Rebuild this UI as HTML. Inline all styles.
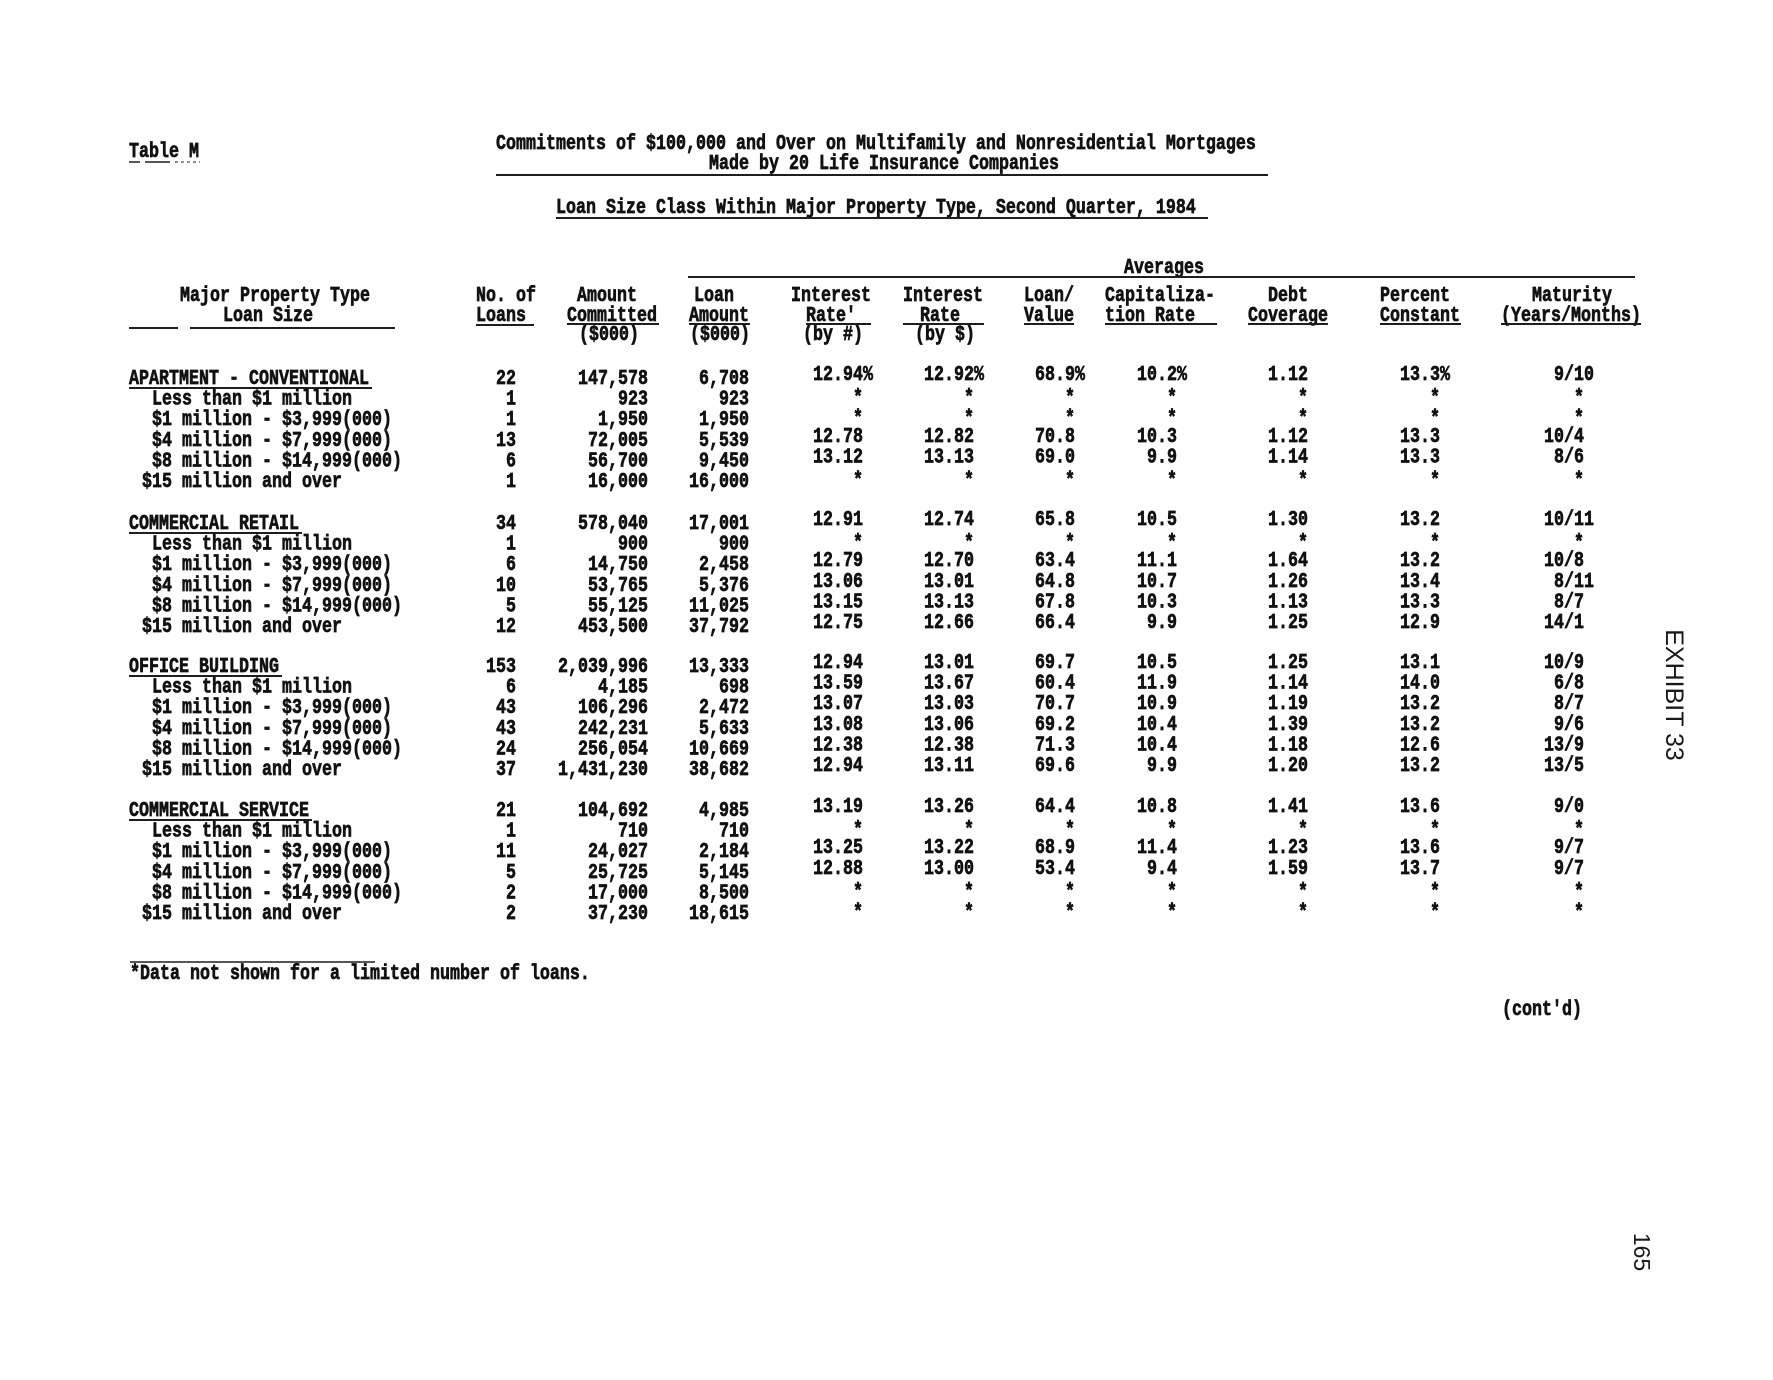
<!DOCTYPE html>
<html>
<head>
<meta charset="utf-8">
<style>
html,body{margin:0;padding:0;background:#fff;}
svg{display:block;}
.t{font-family:"Liberation Mono","DejaVu Sans Mono",monospace;font-weight:bold;font-size:16.667px;fill:#111;stroke:#111;stroke-width:0.55px;}
.s{font-family:"Liberation Sans","DejaVu Sans",sans-serif;font-size:25px;fill:#1a1a1a;}
line{stroke:#1e1e1e;stroke-width:2;}
</style>
</head>
<body>
<svg width="1773" height="1380" viewBox="0 0 1773 1380" xmlns="http://www.w3.org/2000/svg">
<rect width="1773" height="1380" fill="#fff"/>

<!-- Title block -->
<g class="t">
<text transform="translate(129,157) scale(1,1.25)">Table M</text>
<text transform="translate(496,149) scale(1,1.25)">Commitments of $100,000 and Over on Multifamily and Nonresidential Mortgages</text>
<text transform="translate(709,169) scale(1,1.25)">Made by 20 Life Insurance Companies</text>
<text transform="translate(556,213) scale(1,1.25)">Loan Size Class Within Major Property Type, Second Quarter, 1984</text>
<text transform="translate(1124,273) scale(1,1.25)">Averages</text>
</g>
<line x1="129" y1="162" x2="140" y2="162" style="stroke-width:1.5"/>
<line x1="145" y1="162" x2="170" y2="162" style="stroke-width:1.5"/>
<line x1="175" y1="162" x2="200" y2="162" style="stroke-width:1" stroke-dasharray="3,3"/>
<line x1="496" y1="175" x2="1268" y2="175"/>
<line x1="556" y1="218" x2="1208" y2="218"/>
<line x1="688" y1="277" x2="1635" y2="277"/>

<!-- Column headers -->
<g class="t">
<g transform="translate(0,301) scale(1,1.25)">
<text x="180">Major Property Type</text>
<text x="476">No. of</text>
<text x="577">Amount</text>
<text x="694">Loan</text>
<text x="791">Interest</text>
<text x="903">Interest</text>
<text x="1024">Loan/</text>
<text x="1105">Capitaliza-</text>
<text x="1268">Debt</text>
<text x="1380">Percent</text>
<text x="1532">Maturity</text>
</g>
<g transform="translate(0,321) scale(1,1.25)">
<text x="223">Loan Size</text>
<text x="476">Loans</text>
<text x="567">Committed</text>
<text x="689">Amount</text>
<text x="806">Rate'</text>
<text x="920">Rate</text>
<text x="1024">Value</text>
<text x="1105">tion Rate</text>
<text x="1248">Coverage</text>
<text x="1380">Constant</text>
<text x="1501">(Years/Months)</text>
</g>
<g transform="translate(0,340) scale(1,1.25)">
<text x="579">($000)</text>
<text x="690">($000)</text>
<text x="803">(by #)</text>
<text x="915">(by $)</text>
</g>
</g>
<line x1="129" y1="328" x2="178" y2="328"/>
<line x1="190" y1="328" x2="395" y2="328"/>
<line x1="476" y1="325" x2="534" y2="325"/>
<line x1="567" y1="324" x2="659" y2="324"/>
<line x1="689" y1="324" x2="750" y2="324"/>
<line x1="806" y1="324" x2="871" y2="324"/>
<line x1="903" y1="324" x2="984" y2="324"/>
<line x1="1024" y1="324" x2="1074" y2="324"/>
<line x1="1105" y1="324" x2="1217" y2="324"/>
<line x1="1248" y1="324" x2="1328" y2="324"/>
<line x1="1380" y1="324" x2="1461" y2="324"/>
<line x1="1501" y1="324" x2="1641" y2="324"/>

<!-- Section underlines -->
<line x1="129" y1="388" x2="372" y2="388"/>
<line x1="129" y1="533" x2="302" y2="533"/>
<line x1="129" y1="676" x2="282" y2="676"/>
<line x1="129" y1="820" x2="312" y2="820"/>

<g class="t">
<!-- ===== APARTMENT - CONVENTIONAL ===== -->
<g transform="translate(0,384) scale(1,1.25)">
<text x="129">APARTMENT - CONVENTIONAL</text>
<text text-anchor="end"><tspan x="516">22</tspan><tspan x="648">147,578</tspan><tspan x="749">6,708</tspan></text>
<text y="-3.2"><tspan x="813">12.94%</tspan><tspan x="924">12.92%</tspan><tspan x="1035">68.9%</tspan><tspan x="1137">10.2%</tspan><tspan x="1268">1.12</tspan><tspan x="1400">13.3%</tspan><tspan x="1554">9/10</tspan></text>
</g>
<g transform="translate(0,404.6) scale(1,1.25)">
<text x="152">Less than $1 million</text>
<text text-anchor="end"><tspan x="516">1</tspan><tspan x="648">923</tspan><tspan x="749">923</tspan></text>
<text y="-0.8"><tspan x="853">*</tspan><tspan x="964">*</tspan><tspan x="1065">*</tspan><tspan x="1167">*</tspan><tspan x="1298">*</tspan><tspan x="1430">*</tspan><tspan x="1574">*</tspan></text>
</g>
<g transform="translate(0,425.2) scale(1,1.25)">
<text x="152">$1 million - $3,999(000)</text>
<text text-anchor="end"><tspan x="516">1</tspan><tspan x="648">1,950</tspan><tspan x="749">1,950</tspan></text>
<text y="-0.8"><tspan x="853">*</tspan><tspan x="964">*</tspan><tspan x="1065">*</tspan><tspan x="1167">*</tspan><tspan x="1298">*</tspan><tspan x="1430">*</tspan><tspan x="1574">*</tspan></text>
</g>
<g transform="translate(0,445.8) scale(1,1.25)">
<text x="152">$4 million - $7,999(000)</text>
<text text-anchor="end"><tspan x="516">13</tspan><tspan x="648">72,005</tspan><tspan x="749">5,539</tspan></text>
<text y="-3.2"><tspan x="813">12.78</tspan><tspan x="924">12.82</tspan><tspan x="1035">70.8</tspan><tspan x="1137">10.3</tspan><tspan x="1268">1.12</tspan><tspan x="1400">13.3</tspan><tspan x="1544">10/4</tspan></text>
</g>
<g transform="translate(0,466.4) scale(1,1.25)">
<text x="152">$8 million - $14,999(000)</text>
<text text-anchor="end"><tspan x="516">6</tspan><tspan x="648">56,700</tspan><tspan x="749">9,450</tspan></text>
<text y="-3.2"><tspan x="813">13.12</tspan><tspan x="924">13.13</tspan><tspan x="1035">69.0</tspan><tspan x="1147">9.9</tspan><tspan x="1268">1.14</tspan><tspan x="1400">13.3</tspan><tspan x="1554">8/6</tspan></text>
</g>
<g transform="translate(0,487) scale(1,1.25)">
<text x="142">$15 million and over</text>
<text text-anchor="end"><tspan x="516">1</tspan><tspan x="648">16,000</tspan><tspan x="749">16,000</tspan></text>
<text y="-0.8"><tspan x="853">*</tspan><tspan x="964">*</tspan><tspan x="1065">*</tspan><tspan x="1167">*</tspan><tspan x="1298">*</tspan><tspan x="1430">*</tspan><tspan x="1574">*</tspan></text>
</g>

<!-- ===== COMMERCIAL RETAIL ===== -->
<g transform="translate(0,529) scale(1,1.25)">
<text x="129">COMMERCIAL RETAIL</text>
<text text-anchor="end"><tspan x="516">34</tspan><tspan x="648">578,040</tspan><tspan x="749">17,001</tspan></text>
<text y="-3.2"><tspan x="813">12.91</tspan><tspan x="924">12.74</tspan><tspan x="1035">65.8</tspan><tspan x="1137">10.5</tspan><tspan x="1268">1.30</tspan><tspan x="1400">13.2</tspan><tspan x="1544">10/11</tspan></text>
</g>
<g transform="translate(0,549.6) scale(1,1.25)">
<text x="152">Less than $1 million</text>
<text text-anchor="end"><tspan x="516">1</tspan><tspan x="648">900</tspan><tspan x="749">900</tspan></text>
<text y="-0.8"><tspan x="853">*</tspan><tspan x="964">*</tspan><tspan x="1065">*</tspan><tspan x="1167">*</tspan><tspan x="1298">*</tspan><tspan x="1430">*</tspan><tspan x="1574">*</tspan></text>
</g>
<g transform="translate(0,570.2) scale(1,1.25)">
<text x="152">$1 million - $3,999(000)</text>
<text text-anchor="end"><tspan x="516">6</tspan><tspan x="648">14,750</tspan><tspan x="749">2,458</tspan></text>
<text y="-3.2"><tspan x="813">12.79</tspan><tspan x="924">12.70</tspan><tspan x="1035">63.4</tspan><tspan x="1137">11.1</tspan><tspan x="1268">1.64</tspan><tspan x="1400">13.2</tspan><tspan x="1544">10/8</tspan></text>
</g>
<g transform="translate(0,590.8) scale(1,1.25)">
<text x="152">$4 million - $7,999(000)</text>
<text text-anchor="end"><tspan x="516">10</tspan><tspan x="648">53,765</tspan><tspan x="749">5,376</tspan></text>
<text y="-3.2"><tspan x="813">13.06</tspan><tspan x="924">13.01</tspan><tspan x="1035">64.8</tspan><tspan x="1137">10.7</tspan><tspan x="1268">1.26</tspan><tspan x="1400">13.4</tspan><tspan x="1554">8/11</tspan></text>
</g>
<g transform="translate(0,611.4) scale(1,1.25)">
<text x="152">$8 million - $14,999(000)</text>
<text text-anchor="end"><tspan x="516">5</tspan><tspan x="648">55,125</tspan><tspan x="749">11,025</tspan></text>
<text y="-3.2"><tspan x="813">13.15</tspan><tspan x="924">13.13</tspan><tspan x="1035">67.8</tspan><tspan x="1137">10.3</tspan><tspan x="1268">1.13</tspan><tspan x="1400">13.3</tspan><tspan x="1554">8/7</tspan></text>
</g>
<g transform="translate(0,632) scale(1,1.25)">
<text x="142">$15 million and over</text>
<text text-anchor="end"><tspan x="516">12</tspan><tspan x="648">453,500</tspan><tspan x="749">37,792</tspan></text>
<text y="-3.2"><tspan x="813">12.75</tspan><tspan x="924">12.66</tspan><tspan x="1035">66.4</tspan><tspan x="1147">9.9</tspan><tspan x="1268">1.25</tspan><tspan x="1400">12.9</tspan><tspan x="1544">14/1</tspan></text>
</g>

<!-- ===== OFFICE BUILDING ===== -->
<g transform="translate(0,672) scale(1,1.25)">
<text x="129">OFFICE BUILDING</text>
<text text-anchor="end"><tspan x="516">153</tspan><tspan x="648">2,039,996</tspan><tspan x="749">13,333</tspan></text>
<text y="-3.2"><tspan x="813">12.94</tspan><tspan x="924">13.01</tspan><tspan x="1035">69.7</tspan><tspan x="1137">10.5</tspan><tspan x="1268">1.25</tspan><tspan x="1400">13.1</tspan><tspan x="1544">10/9</tspan></text>
</g>
<g transform="translate(0,692.6) scale(1,1.25)">
<text x="152">Less than $1 million</text>
<text text-anchor="end"><tspan x="516">6</tspan><tspan x="648">4,185</tspan><tspan x="749">698</tspan></text>
<text y="-3.2"><tspan x="813">13.59</tspan><tspan x="924">13.67</tspan><tspan x="1035">60.4</tspan><tspan x="1137">11.9</tspan><tspan x="1268">1.14</tspan><tspan x="1400">14.0</tspan><tspan x="1554">6/8</tspan></text>
</g>
<g transform="translate(0,713.2) scale(1,1.25)">
<text x="152">$1 million - $3,999(000)</text>
<text text-anchor="end"><tspan x="516">43</tspan><tspan x="648">106,296</tspan><tspan x="749">2,472</tspan></text>
<text y="-3.2"><tspan x="813">13.07</tspan><tspan x="924">13.03</tspan><tspan x="1035">70.7</tspan><tspan x="1137">10.9</tspan><tspan x="1268">1.19</tspan><tspan x="1400">13.2</tspan><tspan x="1554">8/7</tspan></text>
</g>
<g transform="translate(0,733.8) scale(1,1.25)">
<text x="152">$4 million - $7,999(000)</text>
<text text-anchor="end"><tspan x="516">43</tspan><tspan x="648">242,231</tspan><tspan x="749">5,633</tspan></text>
<text y="-3.2"><tspan x="813">13.08</tspan><tspan x="924">13.06</tspan><tspan x="1035">69.2</tspan><tspan x="1137">10.4</tspan><tspan x="1268">1.39</tspan><tspan x="1400">13.2</tspan><tspan x="1554">9/6</tspan></text>
</g>
<g transform="translate(0,754.4) scale(1,1.25)">
<text x="152">$8 million - $14,999(000)</text>
<text text-anchor="end"><tspan x="516">24</tspan><tspan x="648">256,054</tspan><tspan x="749">10,669</tspan></text>
<text y="-3.2"><tspan x="813">12.38</tspan><tspan x="924">12.38</tspan><tspan x="1035">71.3</tspan><tspan x="1137">10.4</tspan><tspan x="1268">1.18</tspan><tspan x="1400">12.6</tspan><tspan x="1544">13/9</tspan></text>
</g>
<g transform="translate(0,775) scale(1,1.25)">
<text x="142">$15 million and over</text>
<text text-anchor="end"><tspan x="516">37</tspan><tspan x="648">1,431,230</tspan><tspan x="749">38,682</tspan></text>
<text y="-3.2"><tspan x="813">12.94</tspan><tspan x="924">13.11</tspan><tspan x="1035">69.6</tspan><tspan x="1147">9.9</tspan><tspan x="1268">1.20</tspan><tspan x="1400">13.2</tspan><tspan x="1544">13/5</tspan></text>
</g>

<!-- ===== COMMERCIAL SERVICE ===== -->
<g transform="translate(0,816) scale(1,1.25)">
<text x="129">COMMERCIAL SERVICE</text>
<text text-anchor="end"><tspan x="516">21</tspan><tspan x="648">104,692</tspan><tspan x="749">4,985</tspan></text>
<text y="-3.2"><tspan x="813">13.19</tspan><tspan x="924">13.26</tspan><tspan x="1035">64.4</tspan><tspan x="1137">10.8</tspan><tspan x="1268">1.41</tspan><tspan x="1400">13.6</tspan><tspan x="1554">9/0</tspan></text>
</g>
<g transform="translate(0,836.6) scale(1,1.25)">
<text x="152">Less than $1 million</text>
<text text-anchor="end"><tspan x="516">1</tspan><tspan x="648">710</tspan><tspan x="749">710</tspan></text>
<text y="-0.8"><tspan x="853">*</tspan><tspan x="964">*</tspan><tspan x="1065">*</tspan><tspan x="1167">*</tspan><tspan x="1298">*</tspan><tspan x="1430">*</tspan><tspan x="1574">*</tspan></text>
</g>
<g transform="translate(0,857.2) scale(1,1.25)">
<text x="152">$1 million - $3,999(000)</text>
<text text-anchor="end"><tspan x="516">11</tspan><tspan x="648">24,027</tspan><tspan x="749">2,184</tspan></text>
<text y="-3.2"><tspan x="813">13.25</tspan><tspan x="924">13.22</tspan><tspan x="1035">68.9</tspan><tspan x="1137">11.4</tspan><tspan x="1268">1.23</tspan><tspan x="1400">13.6</tspan><tspan x="1554">9/7</tspan></text>
</g>
<g transform="translate(0,877.8) scale(1,1.25)">
<text x="152">$4 million - $7,999(000)</text>
<text text-anchor="end"><tspan x="516">5</tspan><tspan x="648">25,725</tspan><tspan x="749">5,145</tspan></text>
<text y="-3.2"><tspan x="813">12.88</tspan><tspan x="924">13.00</tspan><tspan x="1035">53.4</tspan><tspan x="1147">9.4</tspan><tspan x="1268">1.59</tspan><tspan x="1400">13.7</tspan><tspan x="1554">9/7</tspan></text>
</g>
<g transform="translate(0,898.4) scale(1,1.25)">
<text x="152">$8 million - $14,999(000)</text>
<text text-anchor="end"><tspan x="516">2</tspan><tspan x="648">17,000</tspan><tspan x="749">8,500</tspan></text>
<text y="-0.8"><tspan x="853">*</tspan><tspan x="964">*</tspan><tspan x="1065">*</tspan><tspan x="1167">*</tspan><tspan x="1298">*</tspan><tspan x="1430">*</tspan><tspan x="1574">*</tspan></text>
</g>
<g transform="translate(0,919) scale(1,1.25)">
<text x="142">$15 million and over</text>
<text text-anchor="end"><tspan x="516">2</tspan><tspan x="648">37,230</tspan><tspan x="749">18,615</tspan></text>
<text y="-0.8"><tspan x="853">*</tspan><tspan x="964">*</tspan><tspan x="1065">*</tspan><tspan x="1167">*</tspan><tspan x="1298">*</tspan><tspan x="1430">*</tspan><tspan x="1574">*</tspan></text>
</g>

<!-- Footnote -->
<text transform="translate(130,979) scale(1,1.25)">*Data not shown for a limited number of loans.</text>
<text transform="translate(1502,1015) scale(1,1.25)">(cont'd)</text>
</g>
<line x1="130" y1="962" x2="375" y2="962" style="stroke-width:1.5"/>

<!-- Rotated margin labels -->
<text class="s" transform="translate(1674,695) rotate(90)" text-anchor="middle" dominant-baseline="central">EXHIBIT 33</text>
<text class="s" transform="translate(1642,1252) rotate(90)" text-anchor="middle" dominant-baseline="central" style="font-size:23px">165</text>
</svg>
</body>
</html>
